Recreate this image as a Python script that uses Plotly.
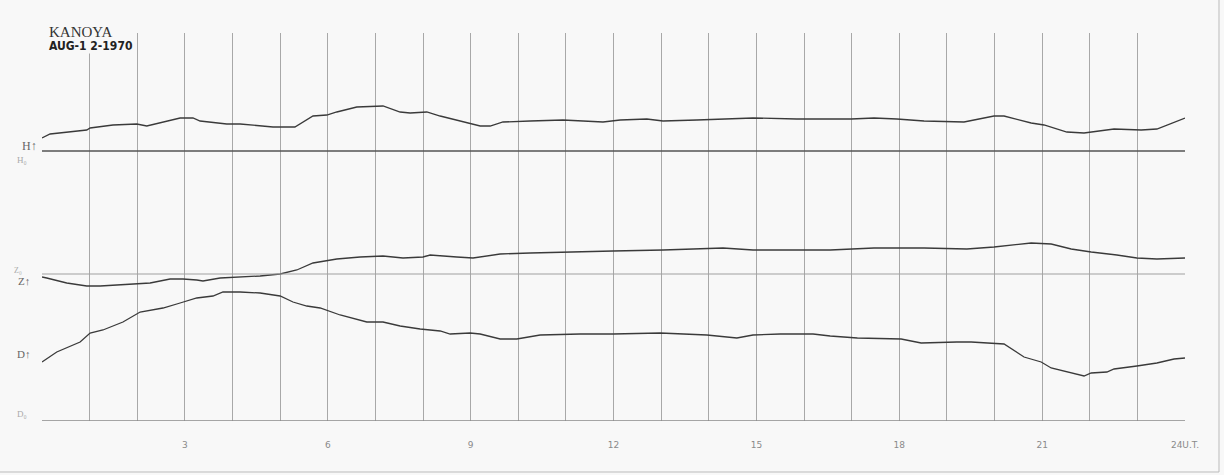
import plotly.graph_objects as go

# Time in hours (U.T.), Aug 12 1970, Kanoya magnetogram
h_time = [0.00, 0.17, 0.94, 1.01, 1.49, 1.99, 2.20, 2.48, 2.90, 3.17, 3.32, 3.88, 4.16, 4.85, 5.31,
          5.69, 5.98, 6.19, 6.61, 7.16, 7.52, 7.73, 8.08, 8.36, 8.71, 9.20, 9.41, 9.68, 10.25, 10.94,
          11.78, 12.14, 12.70, 13.04, 13.75, 14.45, 14.93, 15.85, 16.99, 17.47, 17.95, 18.52, 19.15,
          19.36, 19.99, 20.20, 20.77, 21.04, 21.52, 21.88, 22.51, 23.08, 23.41, 24.00]
h_values = [13, 17, 21, 23, 26, 27, 25, 28, 33, 33, 30, 27, 27, 24, 24,
            35, 36, 39, 44, 45, 39, 38, 39, 35, 31, 25, 25, 29, 30, 31,
            29, 31, 32, 30, 31, 32, 33, 32, 32, 33, 32, 30, 29,
            29, 35, 35, 28, 26, 19, 18, 22, 21, 22, 33]

z_time = [0.00, 0.10, 0.52, 0.94, 1.22, 1.64, 1.99, 2.27, 2.69, 2.96, 3.25, 3.38, 3.74, 4.16, 4.58,
          5.00, 5.35, 5.69, 6.19, 6.68, 7.16, 7.58, 8.00, 8.15, 8.36, 8.71, 9.05, 9.62, 10.25, 10.94,
          11.99, 13.04, 13.96, 14.30, 14.93, 15.85, 16.55, 17.47, 18.52, 19.42, 19.99, 20.77, 21.19,
          21.61, 22.03, 22.57, 22.99, 23.41, 24.00]
z_values = [-3, -4, -9, -12, -12, -11, -10, -9, -5, -5, -6, -7, -4, -3, -2,
            0, 4, 11, 15, 17, 18, 16, 17, 19, 18, 17, 16, 20, 21, 22,
            23, 24, 25, 26, 24, 24, 24, 26, 26, 25, 27, 31, 30,
            25, 22, 19, 16, 15, 16]

d_time = [0.00, 0.31, 0.80, 1.01, 1.28, 1.70, 2.06, 2.54, 2.90, 3.25, 3.59, 3.80, 4.16, 4.58, 5.00,
          5.27, 5.56, 5.84, 6.26, 6.82, 7.16, 7.52, 7.94, 8.36, 8.57, 8.99, 9.20, 9.62, 9.97, 10.46,
          11.30, 11.99, 12.98, 13.96, 14.59, 14.93, 15.50, 16.19, 16.55, 17.12, 18.04, 18.46, 19.21,
          19.51, 20.20, 20.62, 20.98, 21.19, 21.88, 22.03, 22.36, 22.51, 22.99, 23.41, 23.77, 24.00]
d_values = [59, 69, 79, 88, 91, 99, 109, 113, 118, 123, 125, 129, 129, 128, 125,
            119, 115, 113, 106, 99, 99, 95, 92, 90, 87, 88, 87, 82, 82, 86,
            87, 87, 88, 86, 83, 86, 87, 87, 85, 83, 82, 78, 79,
            79, 77, 64, 59, 53, 45, 48, 49, 52, 55, 58, 62, 63]

hour_ticks = list(range(1, 25))
hour_labels = ["", "", "3", "", "", "6", "", "", "9", "", "", "12", "", "", "15", "", "", "18",
               "", "", "21", "", "", "24U.T."]

W, H = 1224, 475
L, R, T, B = 42, 1185, 33, 421  # plot area in pixels
BG = "#f8f8f8"


def px(x):
    return (x - L) / (R - L)


def py(y):
    return (B - y) / (B - T)


trace_color = "#3a3a3a"
fig = go.Figure()
fig.add_trace(go.Scatter(x=h_time, y=h_values, yaxis="y2", mode="lines",
                         line=dict(color=trace_color, width=1.3), showlegend=False))
fig.add_trace(go.Scatter(x=z_time, y=z_values, yaxis="y3", mode="lines",
                         line=dict(color=trace_color, width=1.3), showlegend=False))
fig.add_trace(go.Scatter(x=d_time, y=d_values, yaxis="y", mode="lines",
                         line=dict(color=trace_color, width=1.3), showlegend=False))

ph = B - T
shapes = [
    dict(type="line", xref="x", yref="y2", x0=0, x1=24, y0=0, y1=0, line=dict(color="#555", width=1.5)),
    dict(type="line", xref="x", yref="y3", x0=0, x1=24, y0=0, y1=0, line=dict(color="#a0a0a0", width=1.2)),
    dict(type="line", xref="x", yref="y", x0=0, x1=24, y0=0, y1=0, line=dict(color="#8a8a8a", width=1.3)),
    dict(type="line", xref="paper", yref="paper", x0=px(1219), x1=px(1219), y0=py(0), y1=py(472),
         line=dict(color="#bbb", width=1)),
    dict(type="line", xref="paper", yref="paper", x0=px(0), x1=px(1219), y0=py(472), y1=py(472),
         line=dict(color="#bbb", width=1)),
]

annotations = [
    dict(text="KANOYA", x=px(48), y=py(32), xref="paper", yref="paper", xanchor="left", yanchor="middle",
         showarrow=False, font=dict(family="Liberation Serif, DejaVu Serif", size=15, color="#333"),
         bgcolor=BG, borderpad=0),
    dict(text="<b>AUG-1 2-1970</b>", x=px(48), y=py(46), xref="paper", yref="paper", xanchor="left",
         yanchor="middle", showarrow=False,
         font=dict(family="Liberation Sans Narrow, DejaVu Sans Condensed, Arial Narrow", size=12, color="#222"),
         bgcolor=BG, borderpad=0),
    dict(text="H↑", x=px(20), y=py(137), xref="paper", yref="paper", showarrow=False,
         font=dict(family="Liberation Serif", size=12, color="#666")),
    dict(text="H₀", x=px(15), y=py(153), xref="paper", yref="paper", showarrow=False,
         font=dict(family="Liberation Serif", size=9, color="#aaa")),
    dict(text="Z₀", x=px(12), y=py(270), xref="paper", yref="paper", showarrow=False,
         font=dict(family="Liberation Serif", size=8, color="#aaa")),
    dict(text="Z↑", x=px(16), y=py(281), xref="paper", yref="paper", showarrow=False,
         font=dict(family="Liberation Serif", size=11, color="#666")),
    dict(text="D↑", x=px(15), y=py(362), xref="paper", yref="paper", showarrow=False,
         font=dict(family="Liberation Serif", size=11, color="#666")),
    dict(text="D₀", x=px(15), y=py(421), xref="paper", yref="paper", showarrow=False,
         font=dict(family="Liberation Serif", size=9, color="#aaa")),
]

fig.update_layout(
    width=W, height=H,
    margin=dict(l=L, r=W - R, t=T, b=H - B, pad=0),
    paper_bgcolor=BG, plot_bgcolor=BG,
    xaxis=dict(range=[0, 24], tickvals=hour_ticks, ticktext=hour_labels, showgrid=True,
               gridcolor="#a8a8a8", gridwidth=1.2, zeroline=False, showline=False, ticks="",
               ticklabelstandoff=17, tickfont=dict(family="DejaVu Sans", size=9, color="#8a8a8a")),
    yaxis=dict(range=[0, ph], visible=False, showgrid=False, zeroline=False),
    yaxis2=dict(range=[-(B - 151), 151 - T], overlaying="y", visible=False, showgrid=False, zeroline=False),
    yaxis3=dict(range=[-(B - 274), 274 - T], overlaying="y", visible=False, showgrid=False, zeroline=False),
    shapes=shapes,
    annotations=annotations,
)

fig.write_html("out.html", config={"displayModeBar": False},
               post_script="document.body.style.margin='0';document.body.style.background='#f8f8f8';"
                           "document.body.style.overflow='hidden';")
